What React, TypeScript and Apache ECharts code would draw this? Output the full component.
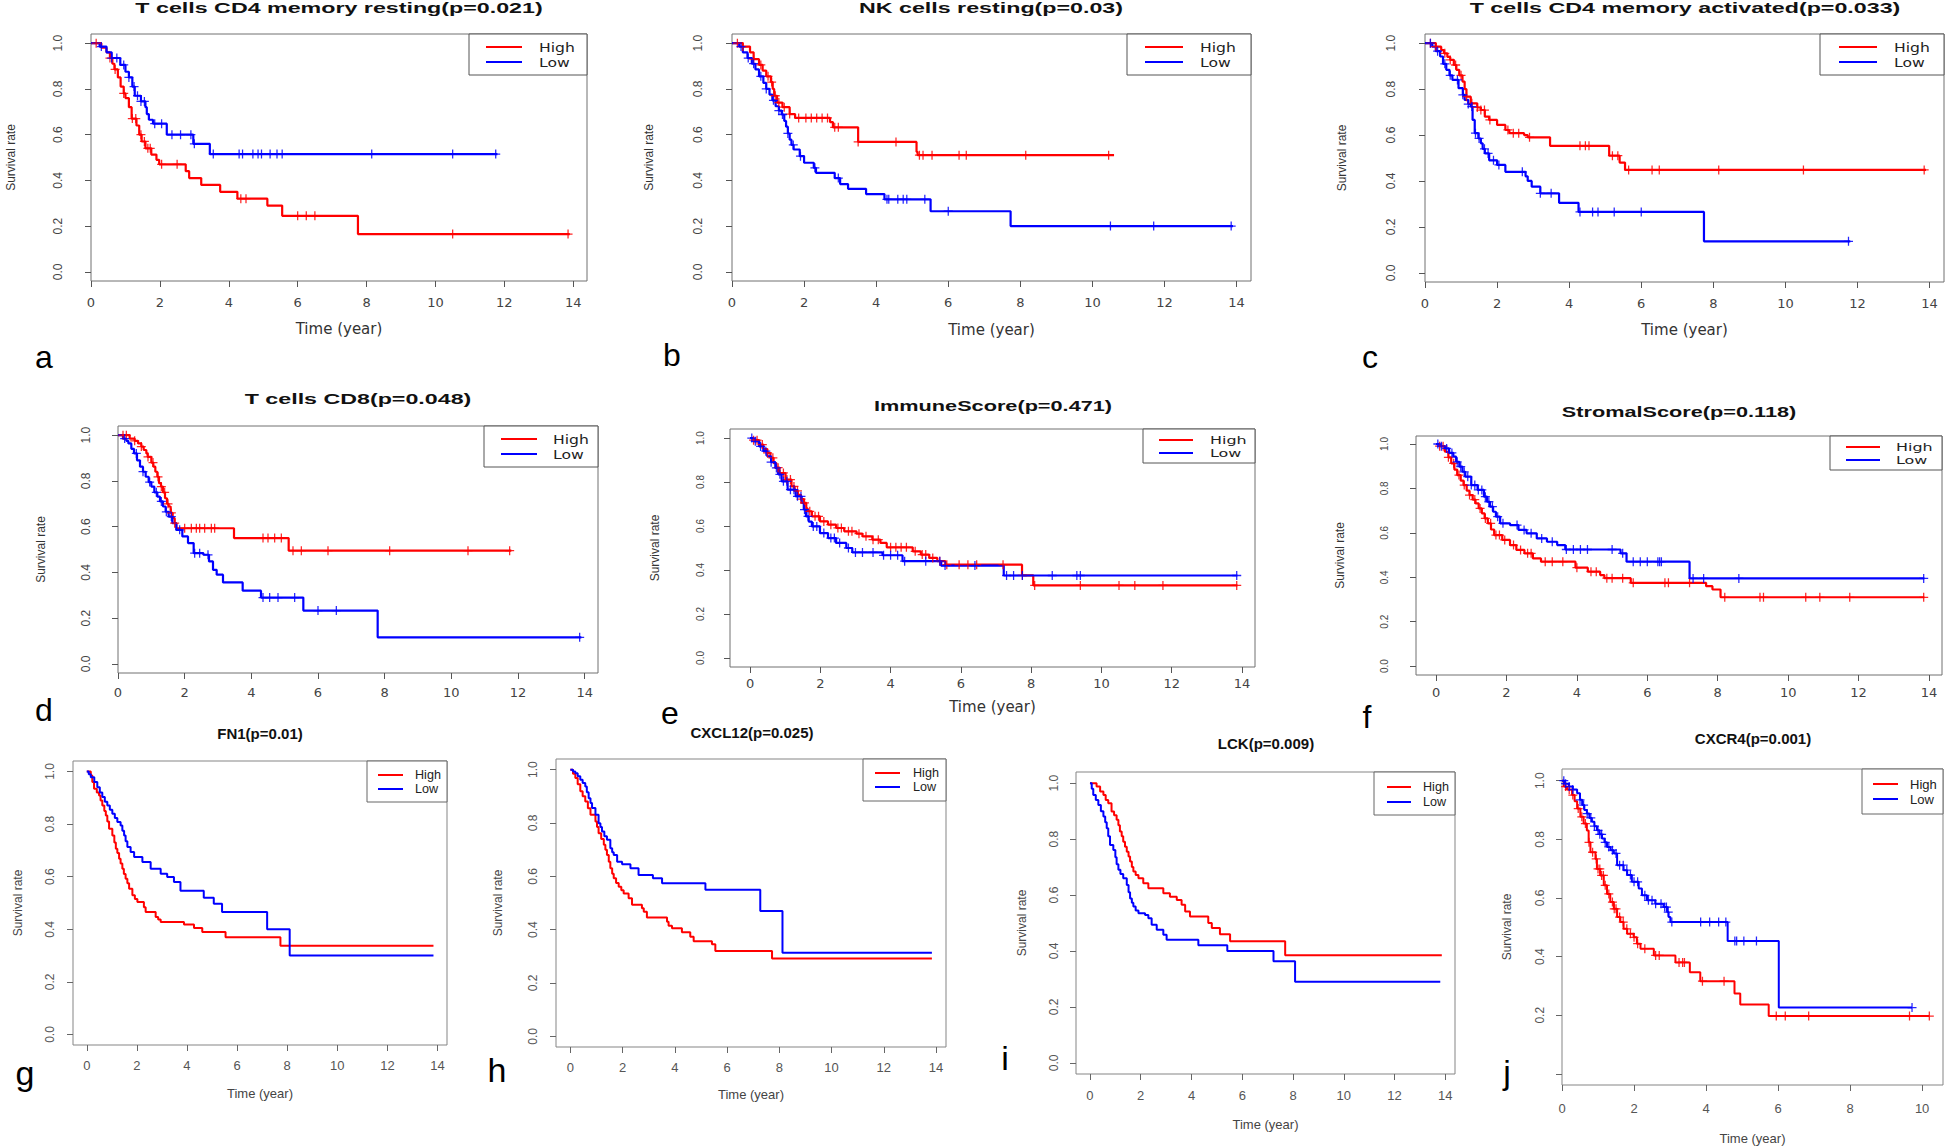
import React, { useEffect, useRef } from "react";
import * as echarts from "echarts";

// ---------------- DATA ----------------
const xTicks14 = [0, 2, 4, 6, 8, 10, 12, 14];
const xTicks10 = [0, 2, 4, 6, 8, 10];
const yTicks = [0, 0.2, 0.4, 0.6, 0.8, 1.0];
const yLabelsJ = [0.2, 0.4, 0.6, 0.8, 1.0];
const groupNames = ["High", "Low"];
const xAxisName = "Time (year)";
const yAxisName = "Survival rate";
const titles = [
  "T cells CD4 memory resting(p=0.021)",
  "NK cells resting(p=0.03)",
  "T cells CD4 memory activated(p=0.033)",
  "T cells CD8(p=0.048)",
  "ImmuneScore(p=0.471)",
  "StromalScore(p=0.118)",
  "FN1(p=0.01)",
  "CXCL12(p=0.025)",
  "LCK(p=0.009)",
  "CXCR4(p=0.001)",
];
const letters = ["a", "b", "c", "d", "e", "f", "g", "h", "i", "j"];

// Kaplan-Meier steps: [time, survival after event]
const aHigh = [[0,1],[0.3,0.98],[0.45,0.96],[0.55,0.935],[0.62,0.91],[0.68,0.885],[0.78,0.85],[0.86,0.81],[0.95,0.78],[1.0,0.76],[1.1,0.72],[1.18,0.67],[1.32,0.64],[1.4,0.6],[1.47,0.57],[1.58,0.54],[1.75,0.513],[1.9,0.49],[1.98,0.47],[2.75,0.44],[2.85,0.41],[3.2,0.38],[3.75,0.35],[4.25,0.32],[5.12,0.29],[5.55,0.245],[7.75,0.165],[13.9,0.165]];
const aHighC = [0.15,0.55,0.7,0.95,1.2,1.3,1.45,1.55,1.65,1.72,2.05,2.5,4.35,4.5,6.0,6.25,6.5,10.5,13.85];
const aLow = [[0,1],[0.25,0.985],[0.45,0.96],[0.6,0.935],[0.85,0.905],[1.0,0.875],[1.1,0.85],[1.2,0.81],[1.27,0.77],[1.45,0.745],[1.58,0.72],[1.62,0.69],[1.68,0.665],[1.8,0.648],[2.2,0.6],[2.97,0.56],[3.45,0.515],[11.8,0.515]];
const aLowC = [0.3,0.6,0.75,0.95,1.1,1.25,1.35,1.45,1.55,1.85,2.05,2.35,2.6,2.9,3.0,3.55,4.3,4.4,4.7,4.85,4.95,5.2,5.4,5.55,8.15,10.5,11.75];

const bHigh = [[0,1],[0.3,0.985],[0.5,0.96],[0.6,0.93],[0.75,0.905],[0.85,0.88],[0.95,0.855],[1.08,0.83],[1.13,0.8],[1.17,0.77],[1.25,0.74],[1.4,0.72],[1.6,0.69],[1.75,0.673],[2.72,0.655],[2.8,0.632],[3.5,0.568],[5.12,0.525],[5.15,0.51],[10.6,0.51]];
const bHighC = [0.15,0.3,0.6,0.8,1.0,1.1,1.2,1.3,1.45,1.6,1.85,2.05,2.2,2.35,2.5,2.65,2.85,2.95,3.5,4.55,5.2,5.3,5.55,6.3,6.5,8.15,10.45];
const bLow = [[0,1],[0.2,0.985],[0.3,0.96],[0.43,0.935],[0.55,0.91],[0.65,0.885],[0.75,0.855],[0.87,0.826],[0.95,0.8],[1.04,0.775],[1.12,0.75],[1.21,0.724],[1.3,0.705],[1.38,0.688],[1.45,0.66],[1.5,0.635],[1.55,0.605],[1.6,0.578],[1.65,0.555],[1.71,0.535],[1.88,0.506],[2.0,0.477],[2.27,0.455],[2.33,0.433],[2.85,0.41],[3.0,0.384],[3.22,0.363],[3.72,0.34],[4.23,0.317],[5.51,0.265],[7.73,0.2],[13.9,0.2]];
const bLowC = [0.25,0.45,0.6,0.8,0.95,1.15,1.3,1.4,1.55,1.7,1.9,2.3,2.95,4.3,4.35,4.6,4.75,4.85,5.35,6.0,10.5,11.7,13.85];

const cHigh = [[0,1],[0.3,0.985],[0.45,0.97],[0.53,0.956],[0.62,0.94],[0.7,0.927],[0.8,0.905],[0.87,0.884],[0.95,0.86],[1.04,0.833],[1.1,0.8],[1.15,0.767],[1.27,0.738],[1.45,0.72],[1.55,0.709],[1.66,0.68],[1.78,0.666],[2.0,0.644],[2.23,0.622],[2.34,0.608],[2.75,0.6],[2.85,0.59],[3.47,0.553],[5.11,0.51],[5.4,0.48],[5.55,0.448],[13.9,0.448]];
const cHighC = [0.15,0.3,0.55,0.7,0.85,1.0,1.15,1.3,1.45,1.55,1.65,1.8,2.3,2.45,2.6,2.9,4.3,4.45,4.55,5.2,5.35,5.65,6.3,6.5,8.15,10.5,13.85];
const cLow = [[0,1],[0.2,0.985],[0.3,0.965],[0.42,0.942],[0.5,0.91],[0.59,0.884],[0.68,0.86],[0.76,0.84],[0.93,0.804],[1.05,0.775],[1.1,0.753],[1.2,0.735],[1.27,0.724],[1.32,0.666],[1.38,0.608],[1.48,0.585],[1.55,0.564],[1.6,0.54],[1.66,0.52],[1.78,0.49],[2.0,0.47],[2.23,0.44],[2.79,0.42],[2.85,0.4],[2.96,0.375],[3.2,0.346],[3.72,0.305],[4.26,0.265],[7.74,0.137],[11.8,0.137]];
const cLowC = [0.15,0.35,0.55,0.7,0.9,1.05,1.2,1.3,1.4,1.5,1.65,1.75,1.9,2.05,2.7,3.2,3.5,4.3,4.65,4.8,5.25,6.0,11.75];

const dHigh = [[0,1],[0.35,0.985],[0.5,0.975],[0.6,0.964],[0.7,0.95],[0.77,0.935],[0.85,0.92],[0.89,0.905],[1.0,0.88],[1.06,0.862],[1.12,0.84],[1.18,0.818],[1.23,0.79],[1.29,0.775],[1.35,0.75],[1.41,0.724],[1.47,0.7],[1.52,0.688],[1.58,0.66],[1.64,0.637],[1.7,0.615],[1.75,0.593],[3.48,0.55],[5.12,0.495],[11.8,0.495]];
const dHighC = [0.15,0.25,0.5,0.7,0.9,1.05,1.2,1.3,1.4,1.5,1.6,1.7,2.0,2.2,2.35,2.45,2.6,2.8,2.9,4.35,4.5,4.7,4.9,5.25,5.5,6.3,8.15,10.5,11.75];
const dLow = [[0,1],[0.15,0.985],[0.25,0.975],[0.31,0.964],[0.4,0.94],[0.48,0.92],[0.57,0.89],[0.66,0.862],[0.75,0.84],[0.83,0.818],[0.92,0.795],[1.0,0.775],[1.09,0.75],[1.18,0.731],[1.26,0.71],[1.35,0.688],[1.43,0.665],[1.52,0.644],[1.63,0.615],[1.75,0.586],[1.93,0.557],[2.1,0.528],[2.27,0.484],[2.56,0.477],[2.73,0.448],[2.85,0.411],[2.96,0.39],[3.15,0.356],[3.74,0.32],[4.29,0.29],[5.56,0.233],[7.79,0.116],[13.9,0.116]];
const dLowC = [0.2,0.55,0.75,0.95,1.15,1.3,1.45,1.6,1.85,2.3,2.45,2.7,4.35,4.55,4.8,5.3,6.0,6.55,13.85];

const eHigh = [[0,1],[0.1,0.99],[0.26,0.97],[0.38,0.95],[0.49,0.932],[0.58,0.91],[0.67,0.886],[0.75,0.865],[0.84,0.841],[1.01,0.811],[1.18,0.78],[1.27,0.76],[1.36,0.742],[1.45,0.722],[1.53,0.705],[1.6,0.68],[1.64,0.667],[1.76,0.644],[1.99,0.621],[2.22,0.606],[2.45,0.591],[2.68,0.576],[3.03,0.565],[3.2,0.553],[3.48,0.538],[3.71,0.523],[3.89,0.503],[4.63,0.485],[4.86,0.47],[5.1,0.455],[5.33,0.44],[5.56,0.424],[7.74,0.376],[8.06,0.33],[13.87,0.33]];
const eHighC = [0.1,0.2,0.35,0.5,0.65,0.8,0.95,1.05,1.15,1.25,1.35,1.45,1.55,1.7,1.85,1.95,2.1,2.3,2.5,2.6,2.8,2.9,3.1,3.3,3.5,3.65,4.0,4.15,4.3,4.45,4.7,4.9,5.0,5.2,5.4,5.6,5.95,6.2,6.45,7.2,7.75,8.1,9.4,10.5,10.95,11.75,13.85];
const eLow = [[0,1],[0.1,0.985],[0.26,0.962],[0.38,0.94],[0.49,0.917],[0.6,0.89],[0.72,0.864],[0.8,0.835],[0.9,0.803],[1.07,0.765],[1.3,0.735],[1.47,0.705],[1.53,0.675],[1.59,0.644],[1.67,0.62],[1.76,0.598],[1.99,0.568],[2.22,0.545],[2.45,0.523],[2.74,0.5],[2.91,0.48],[3.77,0.467],[4.34,0.44],[5.44,0.42],[7.22,0.375],[13.87,0.375]];
const eLowC = [0.05,0.15,0.3,0.45,0.6,0.75,0.85,0.95,1.05,1.15,1.25,1.35,1.45,1.55,1.65,1.8,1.9,2.1,2.3,2.4,2.55,2.8,3.0,3.2,3.5,3.8,4.0,4.2,4.4,5.0,5.4,5.55,6.4,7.3,7.5,7.75,8.6,9.3,9.4,13.85];

const fHigh = [[0,1],[0.1,0.99],[0.25,0.965],[0.35,0.94],[0.43,0.913],[0.52,0.885],[0.6,0.86],[0.7,0.835],[0.78,0.815],[0.87,0.79],[0.95,0.77],[1.04,0.75],[1.12,0.733],[1.21,0.71],[1.3,0.688],[1.38,0.665],[1.47,0.643],[1.56,0.615],[1.65,0.59],[1.88,0.568],[2.1,0.545],[2.28,0.523],[2.51,0.508],[2.75,0.485],[2.98,0.47],[3.96,0.443],[4.31,0.425],[4.66,0.41],[4.78,0.396],[5.53,0.375],[7.67,0.36],[7.85,0.345],[8.08,0.31],[13.87,0.31]];
const fHighC = [0.1,0.2,0.35,0.5,0.65,0.8,0.95,1.1,1.25,1.4,1.55,1.7,1.8,1.95,2.2,2.4,2.6,2.7,3.1,3.3,3.6,4.0,4.4,4.55,4.85,5.0,5.3,5.6,6.5,6.6,7.2,8.2,9.2,9.3,10.5,10.9,11.75,13.85];
const fLow = [[0,1],[0.1,0.99],[0.25,0.98],[0.37,0.96],[0.49,0.943],[0.57,0.92],[0.66,0.898],[0.75,0.875],[0.83,0.853],[1.0,0.815],[1.18,0.793],[1.36,0.763],[1.45,0.74],[1.53,0.718],[1.62,0.695],[1.7,0.673],[1.82,0.643],[2.1,0.635],[2.34,0.613],[2.57,0.598],[2.86,0.575],[3.15,0.56],[3.44,0.545],[3.67,0.525],[5.24,0.508],[5.41,0.47],[7.2,0.395],[13.87,0.395]];
const fLowC = [0.05,0.15,0.3,0.45,0.6,0.7,0.8,0.9,1.0,1.1,1.2,1.3,1.4,1.5,1.6,1.75,1.9,2.3,2.5,2.7,3.0,3.3,3.7,3.9,4.1,4.3,5.0,5.3,5.6,5.8,6.0,6.3,6.35,6.4,7.3,7.6,8.6,13.85];

const gHigh = [[0,1],[0.16,0.985],[0.22,0.96],[0.29,0.934],[0.4,0.92],[0.49,0.909],[0.55,0.89],[0.62,0.871],[0.7,0.85],[0.76,0.833],[0.82,0.81],[0.89,0.782],[1.02,0.757],[1.1,0.73],[1.16,0.706],[1.22,0.69],[1.29,0.668],[1.35,0.65],[1.42,0.63],[1.48,0.61],[1.55,0.592],[1.62,0.575],[1.69,0.554],[1.82,0.529],[1.92,0.515],[2.02,0.504],[2.28,0.484],[2.35,0.466],[2.75,0.447],[2.85,0.437],[2.95,0.428],[3.88,0.418],[4.28,0.405],[4.61,0.39],[5.54,0.37],[7.73,0.337],[13.84,0.337]];
const gLow = [[0,1],[0.08,0.99],[0.16,0.978],[0.3,0.96],[0.42,0.94],[0.52,0.92],[0.62,0.903],[0.72,0.885],[0.82,0.871],[0.92,0.855],[1.02,0.839],[1.12,0.823],[1.22,0.808],[1.35,0.795],[1.42,0.775],[1.49,0.757],[1.55,0.735],[1.62,0.713],[1.75,0.694],[1.89,0.675],[2.22,0.656],[2.55,0.63],[2.95,0.611],[3.21,0.599],[3.48,0.58],[3.74,0.547],[4.67,0.52],[5.07,0.497],[5.4,0.466],[7.2,0.4],[8.1,0.3],[13.84,0.3]];

const hHigh = [[0,1],[0.1,0.985],[0.19,0.969],[0.28,0.945],[0.38,0.919],[0.47,0.9],[0.57,0.881],[0.67,0.855],[0.77,0.831],[0.96,0.806],[1.02,0.785],[1.08,0.762],[1.18,0.74],[1.28,0.718],[1.34,0.7],[1.4,0.68],[1.47,0.655],[1.53,0.63],[1.6,0.61],[1.66,0.593],[1.75,0.575],[1.85,0.561],[1.95,0.548],[2.04,0.536],[2.23,0.518],[2.36,0.493],[2.74,0.48],[2.81,0.467],[2.93,0.446],[3.7,0.43],[3.76,0.415],[3.89,0.405],[4.27,0.39],[4.59,0.373],[4.72,0.357],[5.42,0.345],[5.55,0.32],[7.72,0.292],[13.84,0.292]];
const hLow = [[0,1],[0.1,0.993],[0.19,0.987],[0.28,0.975],[0.38,0.962],[0.47,0.95],[0.57,0.937],[0.63,0.915],[0.7,0.893],[0.77,0.875],[0.83,0.856],[0.96,0.831],[1.08,0.799],[1.15,0.785],[1.21,0.768],[1.3,0.75],[1.4,0.737],[1.53,0.705],[1.6,0.69],[1.66,0.68],[1.79,0.655],[1.98,0.645],[2.3,0.63],[2.61,0.605],[3.16,0.593],[3.51,0.574],[5.17,0.55],[7.27,0.47],[8.12,0.313],[13.84,0.313]];

const iHigh = [[0,1],[0.26,0.988],[0.4,0.97],[0.53,0.958],[0.62,0.94],[0.72,0.928],[0.85,0.899],[0.95,0.885],[1.05,0.869],[1.12,0.85],[1.18,0.827],[1.25,0.81],[1.31,0.791],[1.38,0.773],[1.45,0.755],[1.52,0.738],[1.58,0.72],[1.65,0.7],[1.71,0.684],[1.8,0.672],[1.91,0.66],[2.1,0.642],[2.3,0.624],[2.89,0.606],[3.15,0.594],[3.42,0.582],[3.61,0.565],[3.75,0.541],[3.94,0.523],[4.66,0.5],[4.8,0.482],[5.12,0.46],[5.52,0.435],[7.69,0.385],[13.86,0.385]];
const iLow = [[0,1],[0.07,0.98],[0.13,0.958],[0.23,0.94],[0.33,0.922],[0.43,0.9],[0.53,0.881],[0.6,0.86],[0.66,0.839],[0.72,0.81],[0.79,0.779],[0.92,0.761],[1.0,0.735],[1.05,0.71],[1.12,0.69],[1.2,0.675],[1.31,0.66],[1.45,0.636],[1.52,0.61],[1.58,0.588],[1.65,0.572],[1.71,0.559],[1.8,0.545],[1.91,0.535],[2.17,0.529],[2.3,0.517],[2.43,0.494],[2.63,0.476],[2.89,0.458],[3.02,0.44],[4.27,0.42],[5.41,0.4],[7.23,0.363],[8.08,0.29],[13.8,0.29]];

const jHigh = [[0,1],[0.05,0.98],[0.14,0.97],[0.28,0.951],[0.35,0.93],[0.42,0.905],[0.51,0.877],[0.6,0.854],[0.69,0.83],[0.74,0.79],[0.79,0.756],[0.93,0.733],[0.97,0.699],[1.06,0.677],[1.16,0.643],[1.25,0.614],[1.34,0.586],[1.44,0.563],[1.53,0.535],[1.62,0.518],[1.71,0.495],[1.81,0.478],[1.99,0.466],[2.08,0.444],[2.18,0.427],[2.55,0.404],[3.15,0.38],[3.55,0.347],[3.84,0.316],[4.79,0.274],[4.95,0.237],[5.74,0.197],[10.2,0.197]];
const jHighC = [0.1,0.2,0.3,0.45,0.55,0.65,0.75,0.85,0.95,1.0,1.05,1.1,1.15,1.2,1.3,1.4,1.45,1.5,1.6,1.7,1.8,1.9,2.0,2.1,2.3,2.6,2.7,3.25,3.35,3.4,3.9,4.5,5.95,6.2,6.85,9.65,10.2];
const jLow = [[0,1],[0.08,0.99],[0.19,0.98],[0.3,0.97],[0.42,0.957],[0.5,0.935],[0.56,0.917],[0.62,0.9],[0.69,0.888],[0.76,0.873],[0.83,0.86],[0.9,0.845],[0.97,0.831],[1.04,0.817],[1.11,0.803],[1.18,0.79],[1.25,0.774],[1.35,0.763],[1.44,0.752],[1.53,0.712],[1.71,0.695],[1.81,0.678],[1.94,0.655],[2.13,0.632],[2.22,0.609],[2.36,0.592],[2.59,0.58],[2.82,0.569],[2.92,0.552],[2.96,0.535],[3.01,0.518],[4.6,0.453],[6.02,0.226],[9.72,0.226]];
const jLowC = [0.05,0.1,0.2,0.3,0.5,0.6,0.7,0.8,0.9,1.0,1.05,1.1,1.2,1.3,1.4,1.5,1.6,1.7,1.8,1.9,2.0,2.1,2.3,2.4,2.5,2.6,2.75,2.85,2.9,2.95,3.05,3.85,4.1,4.35,4.55,4.8,4.85,5.05,5.4,9.72];

const curves = [
  { high: aHigh, low: aLow, highC: aHighC, lowC: aLowC },
  { high: bHigh, low: bLow, highC: bHighC, lowC: bLowC },
  { high: cHigh, low: cLow, highC: cHighC, lowC: cLowC },
  { high: dHigh, low: dLow, highC: dHighC, lowC: dLowC },
  { high: eHigh, low: eLow, highC: eHighC, lowC: eLowC },
  { high: fHigh, low: fLow, highC: fHighC, lowC: fLowC },
  { high: gHigh, low: gLow, highC: [] as number[], lowC: [] as number[] },
  { high: hHigh, low: hLow, highC: [] as number[], lowC: [] as number[] },
  { high: iHigh, low: iLow, highC: [] as number[], lowC: [] as number[] },
  { high: jHigh, low: jLow, highC: jHighC, lowC: jLowC },
];

// ---------------- LAYOUT ----------------
type Leg = { l: number; b: number; x1: number; x2: number; tx: number; r1: number; r2: number; fs: number; sx: number };
type Lay = {
  L: number; T: number; R: number; B: number;
  xr: number[]; yr: number[]; xt: number[]; yl: number[];
  title: number[]; letter: number[];
  ym: number; yng: number; xm: number; xng: number | null;
  leg: Leg; st: "A" | "B"; tfs: number; yfs: number; letterFs: number;
};
const A14 = [0, 14.4];
const Y4 = [-0.04, 1.04];
const layouts: Lay[] = [
  { L: 91, T: 34, R: 587, B: 281, xr: A14, yr: Y4, xt: xTicks14, yl: yTicks, title: [339, 8], letter: [44, 357], ym: 27, yng: 74, xm: 15, xng: 40, leg: { l: 469, b: 75, x1: 486, x2: 522, tx: 539, r1: 47, r2: 62, fs: 13, sx: 1.2 }, st: "A", tfs: 15, yfs: 12, letterFs: 32 },
  { L: 732, T: 34, R: 1251, B: 281, xr: A14, yr: Y4, xt: xTicks14, yl: yTicks, title: [991, 8], letter: [672, 355], ym: 28, yng: 77, xm: 15, xng: 41, leg: { l: 1127, b: 75, x1: 1145, x2: 1183, tx: 1200, r1: 47, r2: 62, fs: 13, sx: 1.2 }, st: "A", tfs: 15, yfs: 12, letterFs: 32 },
  { L: 1425, T: 34, R: 1944, B: 282, xr: A14, yr: Y4, xt: xTicks14, yl: yTicks, title: [1685, 8], letter: [1370, 357], ym: 28, yng: 77, xm: 15, xng: 40, leg: { l: 1820, b: 75, x1: 1839, x2: 1877, tx: 1894, r1: 47, r2: 62, fs: 13, sx: 1.2 }, st: "A", tfs: 15, yfs: 12, letterFs: 32 },
  { L: 118, T: 426, R: 598, B: 673, xr: A14, yr: Y4, xt: xTicks14, yl: yTicks, title: [358, 399], letter: [44, 710], ym: 26, yng: 71, xm: 13, xng: null, leg: { l: 484, b: 467, x1: 501, x2: 537, tx: 553, r1: 439, r2: 454, fs: 13, sx: 1.2 }, st: "A", tfs: 15, yfs: 12, letterFs: 32 },
  { L: 730, T: 429, R: 1255, B: 667, xr: [-0.57, 14.37], yr: [-0.041, 1.041], xt: xTicks14, yl: yTicks, title: [993, 406], letter: [670, 713], ym: 25, yng: 69, xm: 10, xng: 32, leg: { l: 1143, b: 463, x1: 1159, x2: 1193, tx: 1210, r1: 440, r2: 453, fs: 11, sx: 1.45 }, st: "A", tfs: 14, yfs: 10, letterFs: 32 },
  { L: 1416, T: 436, R: 1942, B: 675, xr: [-0.57, 14.37], yr: [-0.04, 1.036], xt: xTicks14, yl: yTicks, title: [1679, 412], letter: [1367, 717], ym: 27, yng: 70, xm: 11, xng: null, leg: { l: 1830, b: 470, x1: 1846, x2: 1880, tx: 1896, r1: 447, r2: 460, fs: 11, sx: 1.45 }, st: "A", tfs: 14, yfs: 10, letterFs: 32 },
  { L: 73, T: 761, R: 447, B: 1045, xr: [-0.55, 14.38], yr: Y4, xt: xTicks14, yl: yTicks, title: [260, 733], letter: [25, 1073], ym: 17, yng: 49, xm: 14, xng: 42, leg: { l: 367, b: 802, x1: 378, x2: 403, tx: 415, r1: 775, r2: 789, fs: 12, sx: 1.05 }, st: "B", tfs: 15, yfs: 12, letterFs: 34 },
  { L: 556, T: 759, R: 946, B: 1047, xr: [-0.55, 14.38], yr: Y4, xt: xTicks14, yl: yTicks, title: [752, 732], letter: [497, 1070], ym: 17, yng: 52, xm: 14, xng: 41, leg: { l: 863, b: 801, x1: 875, x2: 900, tx: 913, r1: 773, r2: 787, fs: 12, sx: 1.05 }, st: "B", tfs: 15, yfs: 12, letterFs: 34 },
  { L: 1076, T: 772, R: 1455, B: 1074, xr: [-0.55, 14.38], yr: Y4, xt: xTicks14, yl: yTicks, title: [1266, 743], letter: [1005, 1058], ym: 16, yng: 48, xm: 15, xng: 44, leg: { l: 1374, b: 815, x1: 1387, x2: 1411, tx: 1423, r1: 787, r2: 802, fs: 12, sx: 1.05 }, st: "B", tfs: 15, yfs: 12, letterFs: 34 },
  { L: 1562, T: 769, R: 1943, B: 1085, xr: [0, 10.58], yr: [-0.038, 1.04], xt: xTicks10, yl: yLabelsJ, title: [1753, 738], letter: [1507, 1072], ym: 16, yng: 49, xm: 17, xng: 47, leg: { l: 1862, b: 814, x1: 1873, x2: 1898, tx: 1910, r1: 784, r2: 799, fs: 13, sx: 1.0 }, st: "B", tfs: 15, yfs: 12, letterFs: 34 },
];

const RED = "#ff0000";
const BLUE = "#0000ff";
const SANS = '"Liberation Sans", Arial, sans-serif';
const WIDE = '"DejaVu Sans", sans-serif';
const PLUS = "path://M4.3,0L5.7,0L5.7,4.3L10,4.3L10,5.7L5.7,5.7L5.7,10L4.3,10L4.3,5.7L0,5.7L0,4.3L4.3,4.3Z";

function survAt(steps: number[][], t: number): number {
  let s = 1;
  for (const [x, y] of steps) {
    if (x <= t) s = y;
    else break;
  }
  return s;
}

function buildOption() {
  const grid: any[] = [];
  const xAxis: any[] = [];
  const yAxis: any[] = [];
  const series: any[] = [];
  const elements: any[] = [];

  layouts.forEach((p, i) => {
    const A = p.st === "A";
    const border = A ? "#707070" : "#858585";
    const tickC = A ? "#555" : "#666";
    const labC = A ? "#444" : "#555";
    grid.push({
      left: p.L, top: p.T, width: p.R - p.L, height: p.B - p.T,
      show: true, borderColor: border, borderWidth: 1, backgroundColor: "transparent", containLabel: false,
    });
    xAxis.push({
      type: "value", gridIndex: i, min: p.xr[0], max: p.xr[1],
      axisLine: { show: false, onZero: false },
      splitLine: { show: false },
      axisTick: { show: true, length: 6, lineStyle: { color: tickC, width: 1 }, customValues: p.xt },
      axisLabel: {
        customValues: p.xt, margin: p.xm, color: labC,
        fontFamily: A ? WIDE : SANS, fontSize: 13,
        formatter: (v: number) => String(Math.round(v)),
      },
      name: p.xng === null ? "" : xAxisName,
      nameLocation: "middle", nameGap: p.xng === null ? 30 : p.xng,
      nameTextStyle: { fontFamily: A ? WIDE : SANS, fontSize: A ? 15 : 13, color: A ? "#333" : "#444" },
    });
    yAxis.push({
      type: "value", gridIndex: i, min: p.yr[0], max: p.yr[1],
      axisLine: { show: false, onZero: false },
      splitLine: { show: false },
      axisTick: { show: true, length: 6, lineStyle: { color: tickC, width: 1 }, customValues: yTicks },
      axisLabel: {
        customValues: p.yl, margin: p.ym, rotate: 90, color: labC,
        fontFamily: SANS, fontSize: p.yfs,
        formatter: (v: number) => v.toFixed(1),
      },
      name: yAxisName, nameLocation: "middle", nameRotate: 90, nameGap: p.yng,
      nameTextStyle: { fontFamily: SANS, fontSize: 12, color: A ? "#333" : "#444" },
    });

    const c = curves[i];
    const lw = A ? 2.2 : 2;
    [
      { name: groupNames[0], data: c.high, col: RED, cens: c.highC },
      { name: groupNames[1], data: c.low, col: BLUE, cens: c.lowC },
    ].forEach((g) => {
      series.push({
        type: "line", name: g.name, xAxisIndex: i, yAxisIndex: i, step: "end",
        symbol: "none", data: g.data, lineStyle: { color: g.col, width: lw },
        itemStyle: { color: g.col }, z: 3,
      });
      if (g.cens.length) {
        series.push({
          type: "scatter", name: g.name + " censored", xAxisIndex: i, yAxisIndex: i,
          symbol: PLUS, symbolSize: [9, 9],
          data: g.cens.map((t) => [t, survAt(g.data, t)]),
          itemStyle: { color: g.col, opacity: 0.85 }, z: 4,
        });
      }
    });

    // Title
    elements.push({
      type: "text", x: p.title[0], y: p.title[1], scaleX: A ? 1.55 : 1, z: 20,
      style: {
        text: titles[i], font: `bold ${p.tfs}px ${SANS}`, fill: "#111",
        align: "center", verticalAlign: "middle", textAlign: "center", textVerticalAlign: "middle",
      },
    });
    // Panel letter
    elements.push({
      type: "text", x: p.letter[0], y: p.letter[1], z: 20,
      style: {
        text: letters[i], font: `${p.letterFs}px ${SANS}`, fill: "#000",
        align: "center", verticalAlign: "middle", textAlign: "center", textVerticalAlign: "middle",
      },
    });
    // Legend (R style box in top-right corner)
    const lg = p.leg;
    elements.push({
      type: "rect", z: 20,
      shape: { x: lg.l, y: p.T, width: p.R - lg.l, height: lg.b - p.T },
      style: { fill: "#fff", stroke: A ? "#555" : "#666", lineWidth: 1 },
    });
    [
      { row: lg.r1, col: RED, label: groupNames[0] },
      { row: lg.r2, col: BLUE, label: groupNames[1] },
    ].forEach((it) => {
      elements.push({
        type: "line", z: 21,
        shape: { x1: lg.x1, y1: it.row, x2: lg.x2, y2: it.row },
        style: { stroke: it.col, lineWidth: 2 },
      });
      elements.push({
        type: "text", x: lg.tx, y: it.row, z: 21, scaleX: lg.sx,
        style: {
          text: it.label, font: `${lg.fs}px ${A ? WIDE : SANS}`, fill: "#222",
          align: "left", verticalAlign: "middle", textAlign: "left", textVerticalAlign: "middle",
        },
      });
    });
  });

  return {
    animation: false,
    backgroundColor: "#ffffff",
    grid, xAxis, yAxis, series,
    graphic: { elements },
  };
}

export default function App() {
  const ref = useRef<HTMLDivElement>(null);
  useEffect(() => {
    document.body.style.margin = "0";
    if (!ref.current) return;
    const chart = echarts.init(ref.current, undefined, { renderer: "svg", width: 1946, height: 1148 });
    chart.setOption(buildOption() as any);
    return () => chart.dispose();
  }, []);
  return <div ref={ref} style={{ width: 1946, height: 1148, background: "#fff" }} />;
}
